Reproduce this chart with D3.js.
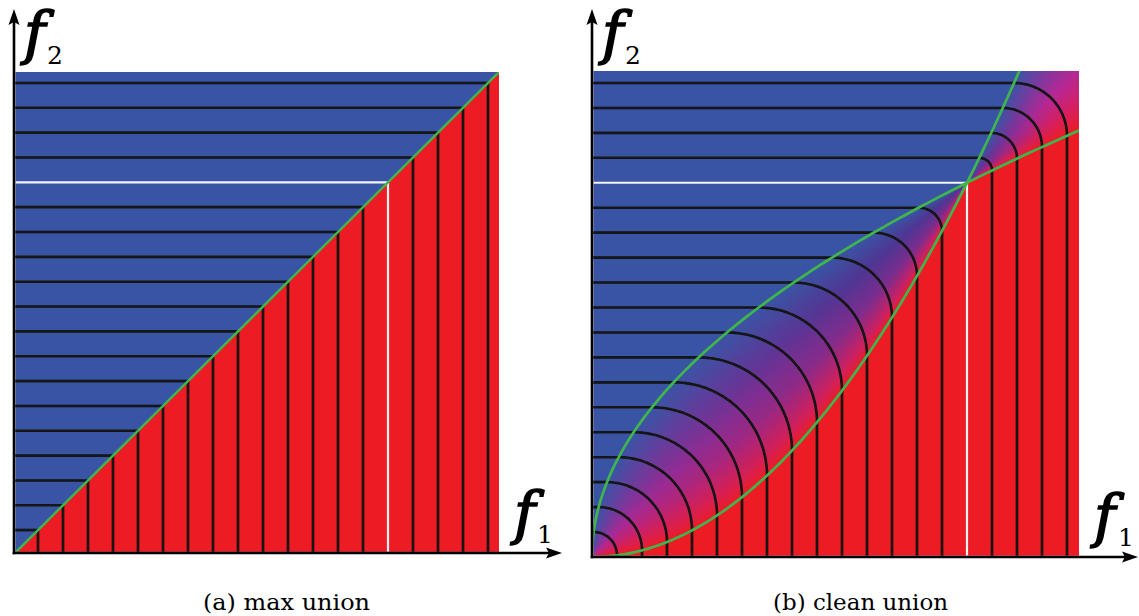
<!DOCTYPE html>
<html>
<head>
<meta charset="utf-8">
<script src="https://cdn.jsdelivr.net/npm/d3@7"></script>
<style>
  html, body { margin: 0; padding: 0; background: #fff; }
  svg { display: block; }
  .serif { font-family: "DejaVu Serif", serif; }
</style>
</head>
<body>
<svg id="fig" width="1139" height="616"></svg>
<script>
// Iso-levels of the combined function; the level f = 0 is drawn in white.
const isoLevels = [-0.70, -0.65, -0.60, -0.55, -0.50, -0.45, -0.40, -0.35, -0.30, -0.25,
                   -0.20, -0.15, -0.10, -0.05, 0.00, 0.05, 0.10, 0.15, 0.20];
const zeroLevel = 0;
// Visible range of the two argument functions f1 and f2.
const fRange = [-0.75, 0.222];
// Corner (f1 = f2) where the clean-union blending region starts.
const blendCorner = -0.75;
const captions = ["(a) max union", "(b) clean union"];
const axisSymbol = "f";
const axisIndex = ["1", "2"];

const palette = {
  blue: "#3a54a5",
  red: "#ed1c24",
  green: "#3fb64b",
  iso: "#121212",
  zero: "#f4f4f4"
};

// Colour across a blending arc: t = 0 on the f1 side, t = 1 on the f2 side.
// Small arcs (near the blend corners) lean to magenta, long arcs to violet.
const rampNear = d3.scaleLinear()
  .domain([0, 0.25, 0.5, 0.75, 1])
  .range(["#ed1c24", "#d71f60", "#b72793", "#7a3a9e", "#3a54a5"])
  .interpolate(d3.interpolateRgb).clamp(true);
const rampFar = d3.scaleLinear()
  .domain([0, 0.12, 0.35, 0.6, 0.85, 1])
  .range(["#ed1c24", "#cf2060", "#7a2d8e", "#4f3693", "#3f4c9f", "#3a54a5"])
  .interpolate(d3.interpolateRgb).clamp(true);

const layout = [
  { px: [13, 499], py: [555, 72], clip: [15.3, 72, 499, 551.8], ax: 14, ay: 553, tipX: 562, tipY: 9,
    capX: 286.5, capW: 167, lab1: [514, 533, 537, 543], lab2: [24, 53, 47, 64] },
  { px: [592, 1078], py: [557, 72], clip: [593.3, 71, 1079, 555.8], ax: 592, ay: 557, tipX: 1138, tipY: 9,
    capX: 860.5, capW: 175, lab1: [1094, 536, 1118, 546], lab2: [602, 53, 625, 64] }
];

const svg = d3.select("#fig");
svg.append("rect").attr("width", 1139).attr("height", 616).attr("fill", "#fff");
const defs = svg.append("defs");
defs.append("filter").attr("id", "soft")
  .attr("x", "-2%").attr("y", "-2%").attr("width", "104%").attr("height", "104%")
  .append("feGaussianBlur").attr("stdDeviation", 0.5);

// Shape of the clean-union blending boundary: distance from the blend corner
// of the arc centre for a level at distance s from that corner.
const K = -blendCorner;              // the zero level sits K away from the corner
const S_MAX = fRange[1] - blendCorner;
function arcCentre(s) {
  return s <= K ? s * s / K : Math.sqrt(K * s);
}

layout.forEach((L, i) => {
  const x = d3.scaleLinear().domain(fRange).range(L.px);
  const y = d3.scaleLinear().domain(fRange).range(L.py);
  const [cx0, cy0, cx1, cy1] = L.clip;
  const clipId = "clip" + i;
  defs.append("clipPath").attr("id", clipId)
    .append("rect").attr("x", cx0).attr("y", cy0).attr("width", cx1 - cx0).attr("height", cy1 - cy0);

  const g = svg.append("g");
  const field = g.append("g").attr("clip-path", `url(#${clipId})`);
  const line = d3.line().x(d => x(d[0])).y(d => y(d[1]));
  const lo = fRange[0], hi = fRange[1];

  if (i === 0) {
    // max(f1, f2): f2 dominates above the diagonal, f1 below it
    field.append("rect").attr("x", cx0).attr("y", cy0).attr("width", cx1 - cx0).attr("height", cy1 - cy0)
      .attr("fill", palette.blue);
    field.append("path").attr("d", line([[lo, lo], [hi, hi], [hi, lo]]) + "Z").attr("fill", palette.red);
  } else {
    // clean union: rasterise the colour field
    const W = Math.round(cx1 - cx0), H = Math.round(cy1 - cy0);
    const cv = document.createElement("canvas");
    cv.width = W; cv.height = H;
    const ctx = cv.getContext("2d");
    const img = ctx.createImageData(W, H);
    const cBlue = d3.rgb(palette.blue), cRed = d3.rgb(palette.red);
    for (let j = 0; j < H; j++) {
      const f2 = y.invert(cy0 + j + 0.5);
      const Y = f2 - blendCorner;
      for (let k = 0; k < W; k++) {
        const f1 = x.invert(cx0 + k + 0.5);
        const X = f1 - blendCorner;
        let col;
        const inner = X > 0 && Y > 0 && X < K && Y > X * X / K && Y < Math.sqrt(K * X);
        const outer = X > K && Y > Math.sqrt(K * X) && Y < X * X / K;
        if (inner || outer) {
          const m = Math.min(X, Y), M = Math.max(X, Y);
          let a = M, b = inner ? Math.sqrt(K * m) : m * m / K;
          for (let it = 0; it < 40; it++) {
            const s = 0.5 * (a + b), c = arcCentre(s);
            const h = Math.hypot(X - c, Y - c) - (s - c);
            if (h > 0) a = s; else b = s;
          }
          const s = 0.5 * (a + b), c = arcCentre(s);
          const t = Math.atan2(Y - c, X - c) / (Math.PI / 2);
          const w = inner ? Math.min(1, s / K * 1.3) : Math.max(0, 1 - (s - K) / (S_MAX - K) * 1.2);
          col = d3.rgb(d3.interpolateRgb(rampNear(t), rampFar(t))(w));
        } else {
          col = Y > X ? cBlue : cRed;
        }
        const p = 4 * (j * W + k);
        img.data[p] = col.r; img.data[p + 1] = col.g; img.data[p + 2] = col.b; img.data[p + 3] = 255;
      }
    }
    ctx.putImageData(img, 0, 0);
    field.append("image").attr("x", cx0).attr("y", cy0).attr("width", W).attr("height", H)
      .attr("preserveAspectRatio", "none").attr("href", cv.toDataURL());
  }

  // iso-lines
  const isoG = field.append("g").attr("filter", "url(#soft)").attr("fill", "none");
  isoLevels.forEach(c => {
    let pts;
    if (i === 0) {
      pts = [[lo - 0.02, c], [c, c], [c, lo - 0.02]];
    } else {
      const s = c - blendCorner, a = arcCentre(s), r = s - a;
      pts = [[lo - 0.02, c]];
      const n = 48;
      for (let q = 0; q <= n; q++) {
        const phi = Math.PI / 2 * (1 - q / n);
        pts.push([blendCorner + a + r * Math.cos(phi), blendCorner + a + r * Math.sin(phi)]);
      }
      pts.push([c, lo - 0.02]);
    }
    const isZero = c === zeroLevel;
    isoG.append("path").attr("d", line(pts))
      .attr("stroke", isZero ? palette.zero : palette.iso)
      .attr("stroke-width", isZero ? 2.2 : 2.6)
      .attr("stroke-linejoin", "round");
  });

  // boundaries of the blending region (green)
  const greenG = field.append("g").attr("fill", "none").attr("stroke", palette.green)
    .attr("stroke-width", i === 0 ? 2.4 : 2.7).attr("stroke-linecap", "round");
  if (i === 0) {
    greenG.append("path").attr("d", line([[lo, lo], [hi + 0.01, hi + 0.01]]));
  } else {
    const n = 200, top = S_MAX + 0.02;
    const c1 = [], c2 = [];
    for (let q = 0; q <= n; q++) {
      const X = top * q / n;
      c1.push([blendCorner + X, blendCorner + X * X / K]);
      c2.push([blendCorner + X * X / K, blendCorner + X]);
    }
    greenG.append("path").attr("d", line(c1));
    greenG.append("path").attr("d", line(c2));
  }

  // axes with arrow heads
  const axG = g.append("g");
  axG.append("line").attr("x1", L.ax).attr("y1", L.ay + 1.3).attr("x2", L.ax).attr("y2", L.tipY + 10)
    .attr("stroke", "#000").attr("stroke-width", 2.6);
  axG.append("line").attr("x1", L.ax - 1.3).attr("y1", L.ay).attr("x2", L.tipX - 10).attr("y2", L.ay)
    .attr("stroke", "#000").attr("stroke-width", 2.6);
  axG.append("path").attr("fill", "#000")
    .attr("d", `M${L.ax},${L.tipY} L${L.ax + 5.5},${L.tipY + 16} L${L.ax},${L.tipY + 13} L${L.ax - 5.5},${L.tipY + 16} Z`);
  axG.append("path").attr("fill", "#000")
    .attr("d", `M${L.tipX},${L.ay} L${L.tipX - 16},${L.ay - 5.5} L${L.tipX - 13},${L.ay} L${L.tipX - 16},${L.ay + 5.5} Z`);

  // axis names
  [[L.lab1, axisIndex[0]], [L.lab2, axisIndex[1]]].forEach(([pos, idx]) => {
    g.append("text").attr("class", "serif").attr("x", pos[0]).attr("y", pos[1])
      .attr("font-style", "italic").attr("font-size", 58).attr("fill", "#000")
      .attr("stroke", "#000").attr("stroke-width", 1.6)
      .text(axisSymbol);
    g.append("text").attr("class", "serif").attr("x", pos[2]).attr("y", pos[3])
      .attr("font-size", 25).attr("fill", "#000").text(idx);
  });

  // caption
  g.append("text").attr("class", "serif").attr("x", L.capX - L.capW / 2).attr("y", 610)
    .attr("font-size", 22).attr("fill", "#000")
    .attr("textLength", L.capW).attr("lengthAdjust", "spacingAndGlyphs")
    .text(captions[i]);
});
</script>
</body>
</html>
